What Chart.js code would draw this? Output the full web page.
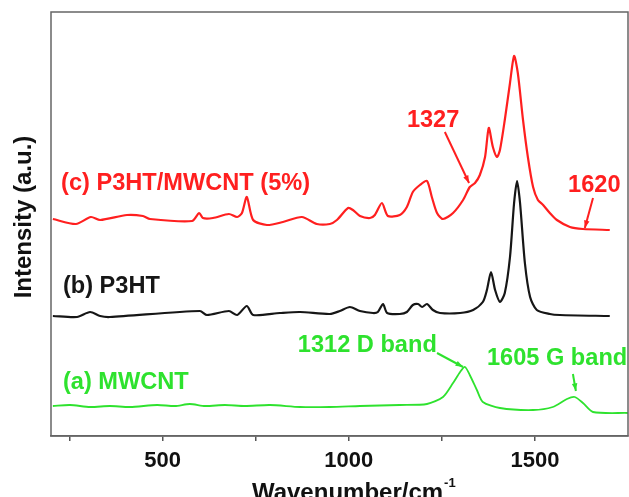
<!DOCTYPE html>
<html>
<head>
<meta charset="utf-8">
<script src="https://cdn.jsdelivr.net/npm/chart.js@4"></script>
<style>
  html, body { margin: 0; padding: 0; background: #fff; }
</style>
</head>
<body>
<canvas id="ramanChart" width="629" height="497"></canvas>
<script>
const RED = "#ff1f1f";
const BLACK = "#161616";
const GREEN = "#2ee22e";
const FONT = "'Liberation Sans', Arial, sans-serif";

// x axis
const xTicks = [250, 500, 750, 1000, 1250, 1500];
const xTickLabels = { 500: "500", 1000: "1000", 1500: "1500" };

// (c) P3HT/MWCNT (5%)
const compWave = [205, 267, 307, 332, 404, 447, 466, 579, 598, 608, 635, 678, 700, 713, 726, 743, 780, 823, 874, 914,
  949, 968, 998, 1011, 1030, 1057, 1070, 1089, 1105, 1137, 1156, 1172, 1191, 1210, 1223, 1237, 1253, 1280, 1307, 1325,
  1339, 1352, 1366, 1376, 1387, 1398, 1406, 1419, 1433, 1444, 1454, 1468, 1481, 1495, 1508, 1522, 1540, 1559, 1594, 1629, 1701];
const compInt = [217, 212, 219, 216, 221, 220, 217, 215, 223, 218, 218, 222, 219, 223, 239, 216, 211, 214, 219, 212,
  212, 216, 228, 226, 220, 218, 221, 233, 220, 221, 229, 244, 251, 255, 239, 223, 217, 223, 236, 249,
  253, 261, 279, 308, 289, 279, 286, 316, 353, 380, 363, 316, 279, 249, 236, 231, 223, 216, 209, 207, 206];

// (b) P3HT
const p3htWave = [205, 270, 305, 332, 358, 600, 619, 678, 700, 726, 743, 815, 869, 949, 976, 1003, 1030, 1065, 1078, 1092,
  1103, 1137, 1156, 1172, 1186, 1197, 1210, 1226, 1245, 1299, 1334, 1360, 1371, 1382, 1393, 1406, 1419, 1433, 1444, 1452,
  1460, 1473, 1487, 1505, 1540, 1567, 1701];
const p3htInt = [120, 119, 124, 120, 119, 125, 121, 125, 121, 130, 121, 123, 124, 122, 125, 129, 125, 123, 124, 132,
  123, 122, 124, 131, 132, 129, 132, 126, 123, 123, 126, 134, 146, 164, 146, 134, 143, 179, 233, 255,
  233, 173, 139, 126, 122, 121, 120];

// (a) MWCNT
const cntWave = [205, 251, 305, 358, 412, 485, 533, 573, 614, 667, 721, 788, 869, 949, 1030, 1137, 1210, 1253, 1280, 1299,
  1312, 1325, 1344, 1360, 1406, 1495, 1548, 1586, 1607, 1629, 1656, 1750];
const cntInt = [30, 31, 29, 30, 29, 31, 30, 32, 30, 31, 30, 31, 29, 29, 30, 31, 32, 39, 53, 64,
  69, 61, 46, 34, 28, 26, 29, 37, 39, 33, 24, 23];

// labels and arrows, placed in axis units
const notes = [
  { text: "(c) P3HT/MWCNT (5%)", x: 227, y: 253, color: RED },
  { text: "1327", x: 1156, y: 316, color: RED },
  { text: "1620", x: 1589, y: 251, color: RED },
  { text: "(b) P3HT", x: 232, y: 150, color: BLACK },
  { text: "(a) MWCNT", x: 232, y: 54, color: GREEN },
  { text: "1312 D band", x: 863, y: 91, color: GREEN },
  { text: "1605 G band", x: 1371, y: 78, color: GREEN },
];
const arrows = [
  { from: [1258, 304], to: [1323, 253], color: RED },
  { from: [1656, 238], to: [1634, 208], color: RED },
  { from: [1237, 83], to: [1307, 69], color: GREEN },
  { from: [1602, 62], to: [1610, 45], color: GREEN },
];

const toPoints = (xs, ys) => xs.map((x, i) => ({ x, y: ys[i] }));

function line(label, xs, ys, color, width) {
  return {
    label,
    data: toPoints(xs, ys),
    borderColor: color,
    borderWidth: width,
    pointRadius: 0,
    tension: 0.25,
    fill: false,
  };
}

const decorPlugin = {
  id: "decor",
  afterDraw(chart) {
    const { ctx, chartArea: a, scales: { x, y } } = chart;
    ctx.save();

    // frame
    ctx.strokeStyle = "#666";
    ctx.lineWidth = 1.5;
    ctx.strokeRect(a.left, a.top, a.right - a.left, a.bottom - a.top);

    ctx.font = `bold 23.6px ${FONT}`;
    ctx.textAlign = "left";
    ctx.textBaseline = "middle";
    notes.forEach((n) => {
      ctx.fillStyle = n.color;
      ctx.fillText(n.text, x.getPixelForValue(n.x), y.getPixelForValue(n.y));
    });

    arrows.forEach((ar) => {
      const x1 = x.getPixelForValue(ar.from[0]), y1 = y.getPixelForValue(ar.from[1]);
      const x2 = x.getPixelForValue(ar.to[0]), y2 = y.getPixelForValue(ar.to[1]);
      const ang = Math.atan2(y2 - y1, x2 - x1);
      ctx.strokeStyle = ar.color;
      ctx.fillStyle = ar.color;
      ctx.lineWidth = 2;
      ctx.beginPath();
      ctx.moveTo(x1, y1);
      ctx.lineTo(x2, y2);
      ctx.stroke();
      ctx.beginPath();
      ctx.moveTo(x2, y2);
      ctx.lineTo(x2 - 8 * Math.cos(ang - 0.35), y2 - 8 * Math.sin(ang - 0.35));
      ctx.lineTo(x2 - 8 * Math.cos(ang + 0.35), y2 - 8 * Math.sin(ang + 0.35));
      ctx.closePath();
      ctx.fill();
    });

    // axis titles
    ctx.fillStyle = "#111";
    ctx.font = `bold 24px ${FONT}`;
    ctx.save();
    ctx.translate(a.left - 27, a.top + 205);
    ctx.rotate(-Math.PI / 2);
    ctx.textAlign = "center";
    ctx.fillText("Intensity (a.u.)", 0, 0);
    ctx.restore();

    const main = "Wavenumber/cm";
    ctx.textBaseline = "alphabetic";
    const w = ctx.measureText(main).width;
    const left = (a.left + a.right) / 2 + 12 - (w + 8) / 2;
    ctx.fillText(main, left, 500);
    ctx.font = `bold 13px ${FONT}`;
    ctx.fillText("-1", left + w + 1, 487);

    ctx.restore();
  },
};

new Chart(document.getElementById("ramanChart"), {
  type: "line",
  data: {
    datasets: [
      line("(c) P3HT/MWCNT (5%)", compWave, compInt, RED, 2.2),
      line("(b) P3HT", p3htWave, p3htInt, BLACK, 2.2),
      line("(a) MWCNT", cntWave, cntInt, GREEN, 1.8),
    ],
  },
  options: {
    responsive: false,
    animation: false,
    layout: { padding: { left: 51, top: 12, right: 1, bottom: 0 } },
    plugins: { legend: { display: false }, tooltip: { enabled: false } },
    scales: {
      x: {
        type: "linear",
        min: 200,
        max: 1750,
        afterBuildTicks: (s) => { s.ticks = xTicks.map((v) => ({ value: v })); },
        afterFit: (s) => { s.height = 61; },
        grid: { drawOnChartArea: false, drawTicks: true, tickLength: 5, color: "#555", lineWidth: 1.5 },
        border: { display: true, color: "#666", width: 1.5 },
        ticks: {
          padding: 7,
          maxRotation: 0,
          autoSkip: false,
          color: "#111",
          font: { family: FONT, size: 22, weight: "bold" },
          callback: (v) => xTickLabels[v] || "",
        },
      },
      y: { display: false, min: 0, max: 424 },
    },
  },
  plugins: [decorPlugin],
});
</script>
</body>
</html>
